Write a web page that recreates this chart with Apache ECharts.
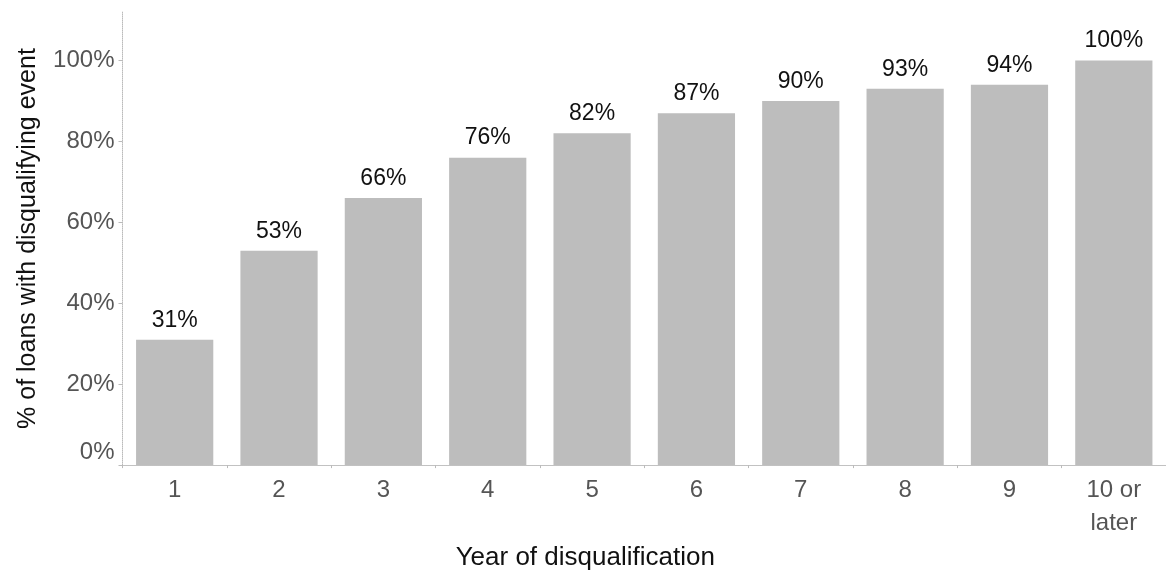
<!DOCTYPE html>
<html><head><meta charset="utf-8">
<script src="https://cdn.jsdelivr.net/npm/echarts@6/dist/echarts.min.js"></script>
<style>html,body{margin:0;padding:0;background:#fff}#c{width:1166px;height:576px}</style>
</head><body><div id="c"></div>
<script>
const categories = ['1','2','3','4','5','6','7','8','9','10 or\nlater'];
const values = [31,53,66,76,82,87,90,93,94,100];
const yTicks = [0,20,40,60,80,100];
const FONT = '"Liberation Sans", Arial, sans-serif';
const chart = echarts.init(document.getElementById('c'));
chart.setOption({
  animation:false,
  grid:{left:122.5,right:-6.5,top:12,bottom:107,containLabel:false},
  xAxis:{type:'category',data:categories,
    name:'Year of disqualification',nameLocation:'middle',nameGap:75,
    nameTextStyle:{fontFamily:FONT,fontSize:26,color:'#111',padding:[0,118,0,0]},
    axisLine:{lineStyle:{color:'#bbb',type:'dotted',width:1}},
    axisTick:{show:true,length:3,lineStyle:{color:'#bbb'}},
    axisLabel:{fontFamily:FONT,fontSize:24,color:'#555',margin:9,lineHeight:33}},
  yAxis:{type:'value',min:0,max:112,interval:20,
    name:'% of loans with disqualifying event',nameLocation:'middle',nameGap:82,nameRotate:90,
    nameTextStyle:{fontFamily:FONT,fontSize:25,color:'#111'},
    splitLine:{show:false},
    axisLine:{show:true,lineStyle:{color:'#bbb',type:'dotted',width:1}},
    axisTick:{show:true,length:4,lineStyle:{color:'#bbb'}},
    axisLabel:{fontFamily:FONT,fontSize:24,color:'#555',margin:8,showMaxLabel:false,
      formatter:v=>v===0?'{z|0%}':(yTicks.includes(v)?v+'%':''),
      rich:{z:{fontFamily:FONT,fontSize:24,color:'#555',padding:[0,0,26,0]}}}},
  series:[{type:'bar',data:values,barWidth:'74%',
    itemStyle:{color:'#bdbdbd'},
    label:{show:true,position:'top',distance:8,fontFamily:FONT,fontSize:23,color:'#111',formatter:p=>p.value+'%'}}]
});
</script></body></html>
